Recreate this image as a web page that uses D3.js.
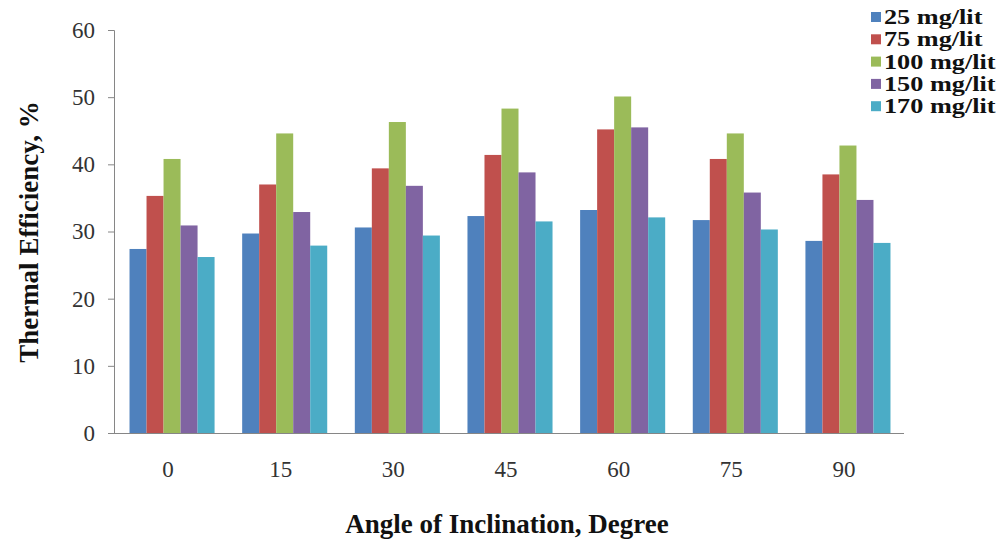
<!DOCTYPE html>
<html>
<head>
<meta charset="utf-8">
<script src="https://cdn.jsdelivr.net/npm/d3@7"></script>
<style>
  html, body { margin: 0; padding: 0; background: #ffffff; }
  svg { display: block; }
</style>
</head>
<body>
<svg id="chart" width="1008" height="540"></svg>
<script>
const categories = ["0", "15", "30", "45", "60", "75", "90"];
const seriesNames = ["25 mg/lit", "75 mg/lit", "100 mg/lit", "150 mg/lit", "170 mg/lit"];
const s25  = [27.4, 29.7, 30.6, 32.3, 33.2, 31.7, 28.6];
const s75  = [35.3, 37.0, 39.4, 41.4, 45.2, 40.8, 38.5];
const s100 = [40.8, 44.6, 46.3, 48.3, 50.1, 44.6, 42.8];
const s150 = [30.9, 32.9, 36.8, 38.8, 45.5, 35.8, 34.7];
const s170 = [26.2, 27.9, 29.4, 31.5, 32.1, 30.3, 28.3];
const seriesValues = [s25, s75, s100, s150, s170];
const yTicks = [0, 10, 20, 30, 40, 50, 60];
const colors = ["#4F81BD", "#C0504D", "#9BBB59", "#8064A2", "#4BACC6"];
const xTitle = "Angle of Inclination, Degree";
const yTitle = "Thermal Efficiency, %";

(function () {
const svg = d3.select("#chart");
const mLeft = 114, mRight = 904, mTop = 30, mBottom = 433;
const serif = "'Liberation Serif', 'Times New Roman', serif";

const x0 = d3.scaleBand().domain(categories).range([mLeft + 2, mRight]).paddingInner(0.245).paddingOuter(0.12);
const x1 = d3.scaleBand().domain(seriesNames).range([0, x0.bandwidth()]);
const y = d3.scaleLinear().domain([0, 60]).range([mBottom, mTop]);

// bars
const g = svg.append("g");
categories.forEach((c, ci) => {
  g.append("g").attr("transform", `translate(${x0(c)},0)`)
    .selectAll("rect")
    .data(seriesNames.map((s, si) => ({ s, si, v: seriesValues[si][ci] })))
    .join("rect")
    .attr("x", d => x1(d.s))
    .attr("width", x1.bandwidth())
    .attr("y", d => y(d.v))
    .attr("height", d => y(0) - y(d.v))
    .attr("fill", d => colors[d.si]);
});

// y axis
const yAxis = svg.append("g").attr("transform", `translate(${mLeft},0)`)
  .call(d3.axisLeft(y).tickValues(yTicks).tickSize(6).tickPadding(13).tickFormat(d3.format("d")));
yAxis.select(".domain").attr("stroke", "#868686");
yAxis.selectAll(".tick line").attr("stroke", "#868686");
yAxis.selectAll("text").attr("font-family", serif).attr("font-size", 23).attr("fill", "#333");

// x axis
const xAxis = svg.append("g").attr("transform", `translate(0,${mBottom})`)
  .call(d3.axisBottom(x0).tickSize(0).tickPadding(28));
xAxis.select(".domain").attr("stroke", "#868686").attr("d", `M${mLeft - 6},0.5H${mRight}`);
xAxis.selectAll("text").attr("font-family", serif).attr("font-size", 23).attr("fill", "#333").attr("dx", -4);

// axis titles
svg.append("text").attr("x", 507).attr("y", 533).attr("text-anchor", "middle")
  .attr("font-family", serif).attr("font-weight", "bold").attr("font-size", 27).attr("fill", "#111")
  .text(xTitle);
svg.append("text").attr("transform", "translate(38,232) rotate(-90)").attr("text-anchor", "middle")
  .attr("font-family", serif).attr("font-weight", "bold").attr("font-size", 27).attr("fill", "#111")
  .text(yTitle);

// legend
const leg = svg.append("g").attr("transform", "translate(871,17)");
const items = leg.selectAll("g").data(seriesNames).join("g").attr("transform", (d, i) => `translate(0,${i * 22.3})`);
items.append("rect").attr("x", 0).attr("y", -5).attr("width", 10).attr("height", 10).attr("fill", (d, i) => colors[i]);
items.append("text").attr("transform", "translate(13,7) scale(1.25,1)")
  .attr("font-family", serif).attr("font-weight", "bold")
  .attr("font-size", 21).attr("fill", "#111").text(d => d);
})();
</script>
</body>
</html>
